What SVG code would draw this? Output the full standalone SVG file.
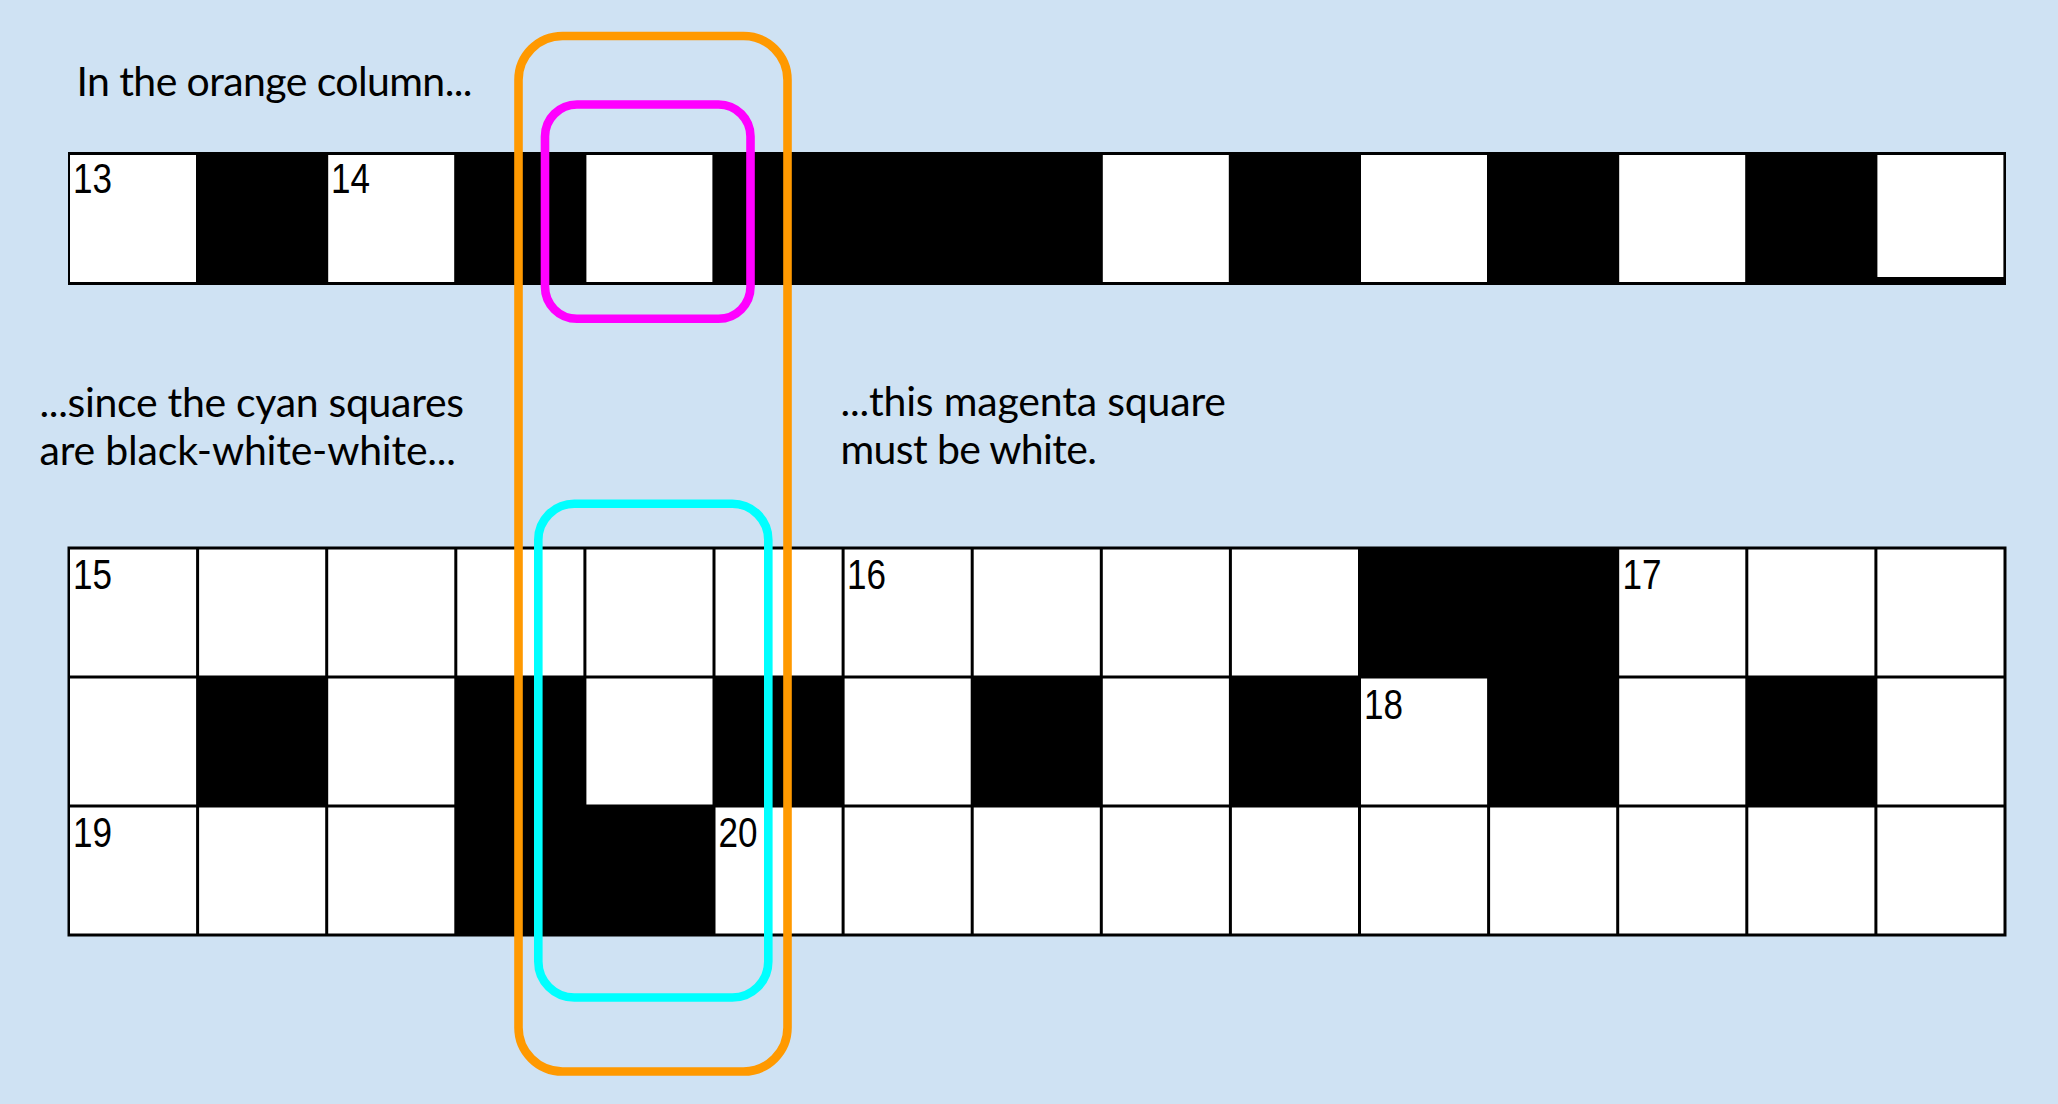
<svg xmlns="http://www.w3.org/2000/svg" width="2058" height="1104" viewBox="0 0 2058 1104">
<style>
.bg{fill:#cfe2f3}
.blk{fill:#000}
.w{fill:#fff}
.num{font-family:"Liberation Sans",Arial,sans-serif;font-size:42px;fill:#000}
.cap{font-family:Lato,"Liberation Sans",sans-serif;font-size:41px;fill:#000}
.hl{fill:none;stroke-width:8.6}
</style>
<rect class="bg" x="0" y="0" width="2058" height="1104"/>

<g id="captions">
<text class="cap" x="76.5" y="96" textLength="396">In the orange column...</text>
<text class="cap" x="39.5" y="417" textLength="424.5">...since the cyan squares</text>
<text class="cap" x="39.5" y="465" textLength="416.5">are black-white-white...</text>
<text class="cap" x="840.5" y="416" textLength="385.5">...this magenta square</text>
<text class="cap" x="840.5" y="464" textLength="256.5">must be white.</text>
</g>

<g id="top-strip">
<rect class="blk" x="68" y="152" width="1938" height="133"/>
<rect class="w" x="70" y="155" width="126" height="127"/>
<rect class="w" x="328.2" y="155" width="126" height="127"/>
<rect class="w" x="586.4" y="155" width="126" height="127"/>
<rect class="w" x="1102.8" y="155" width="126" height="127"/>
<rect class="w" x="1361" y="155" width="126" height="127"/>
<rect class="w" x="1619.2" y="155" width="126" height="127"/>
<rect class="w" x="1877.4" y="155" width="126" height="122"/>
<text class="num" x="73" y="193" textLength="39" lengthAdjust="spacingAndGlyphs">13</text>
<text class="num" x="331" y="193" textLength="39" lengthAdjust="spacingAndGlyphs">14</text>
</g>

<g id="bottom-grid">
<rect class="blk" x="67.5" y="546.5" width="1939" height="390"/>
<!-- row 0 -->
<g>
<rect class="w" x="70" y="549.5" width="126.1" height="126"/>
<rect class="w" x="199.1" y="549.5" width="126.1" height="126"/>
<rect class="w" x="328.2" y="549.5" width="126.1" height="126"/>
<rect class="w" x="457.3" y="549.5" width="126.1" height="126"/>
<rect class="w" x="586.4" y="549.5" width="126.1" height="126"/>
<rect class="w" x="715.5" y="549.5" width="126.1" height="126"/>
<rect class="w" x="844.6" y="549.5" width="126.1" height="126"/>
<rect class="w" x="973.7" y="549.5" width="126.1" height="126"/>
<rect class="w" x="1102.8" y="549.5" width="126.1" height="126"/>
<rect class="w" x="1231.9" y="549.5" width="126.1" height="126"/>
<rect class="w" x="1619.2" y="549.5" width="126.1" height="126"/>
<rect class="w" x="1748.3" y="549.5" width="126.1" height="126"/>
<rect class="w" x="1877.4" y="549.5" width="126.1" height="126"/>
</g>
<!-- row 1 -->
<g>
<rect class="w" x="70" y="678.5" width="126.1" height="126"/>
<rect class="w" x="328.2" y="678.5" width="126.1" height="126"/>
<rect class="w" x="586.4" y="678.5" width="126.1" height="126"/>
<rect class="w" x="844.6" y="678.5" width="126.1" height="126"/>
<rect class="w" x="1102.8" y="678.5" width="126.1" height="126"/>
<rect class="w" x="1361" y="678.5" width="126.1" height="126"/>
<rect class="w" x="1619.2" y="678.5" width="126.1" height="126"/>
<rect class="w" x="1877.4" y="678.5" width="126.1" height="126"/>
</g>
<!-- row 2 -->
<g>
<rect class="w" x="70" y="807.5" width="126.1" height="126"/>
<rect class="w" x="199.1" y="807.5" width="126.1" height="126"/>
<rect class="w" x="328.2" y="807.5" width="126.1" height="126"/>
<rect class="w" x="715.5" y="807.5" width="126.1" height="126"/>
<rect class="w" x="844.6" y="807.5" width="126.1" height="126"/>
<rect class="w" x="973.7" y="807.5" width="126.1" height="126"/>
<rect class="w" x="1102.8" y="807.5" width="126.1" height="126"/>
<rect class="w" x="1231.9" y="807.5" width="126.1" height="126"/>
<rect class="w" x="1361" y="807.5" width="126.1" height="126"/>
<rect class="w" x="1490.1" y="807.5" width="126.1" height="126"/>
<rect class="w" x="1619.2" y="807.5" width="126.1" height="126"/>
<rect class="w" x="1748.3" y="807.5" width="126.1" height="126"/>
<rect class="w" x="1877.4" y="807.5" width="126.1" height="126"/>
</g>
<text class="num" x="73" y="589" textLength="39" lengthAdjust="spacingAndGlyphs">15</text>
<text class="num" x="847" y="589" textLength="39" lengthAdjust="spacingAndGlyphs">16</text>
<text class="num" x="1622.5" y="589" textLength="39" lengthAdjust="spacingAndGlyphs">17</text>
<text class="num" x="1364" y="719" textLength="39" lengthAdjust="spacingAndGlyphs">18</text>
<text class="num" x="73" y="847" textLength="39" lengthAdjust="spacingAndGlyphs">19</text>
<text class="num" x="718.5" y="847" textLength="39" lengthAdjust="spacingAndGlyphs">20</text>
</g>

<g id="highlights">
<rect id="orange-column" class="hl" stroke="#ff9900" x="518.5" y="36" width="269" height="1035.5" rx="44"/>
<rect id="magenta-square" class="hl" stroke="#ff00ff" x="545" y="104.5" width="205.5" height="214.3" rx="32"/>
<rect id="cyan-squares" class="hl" stroke="#00ffff" x="538.3" y="503.8" width="230" height="493.7" rx="36"/>
</g>
</svg>
